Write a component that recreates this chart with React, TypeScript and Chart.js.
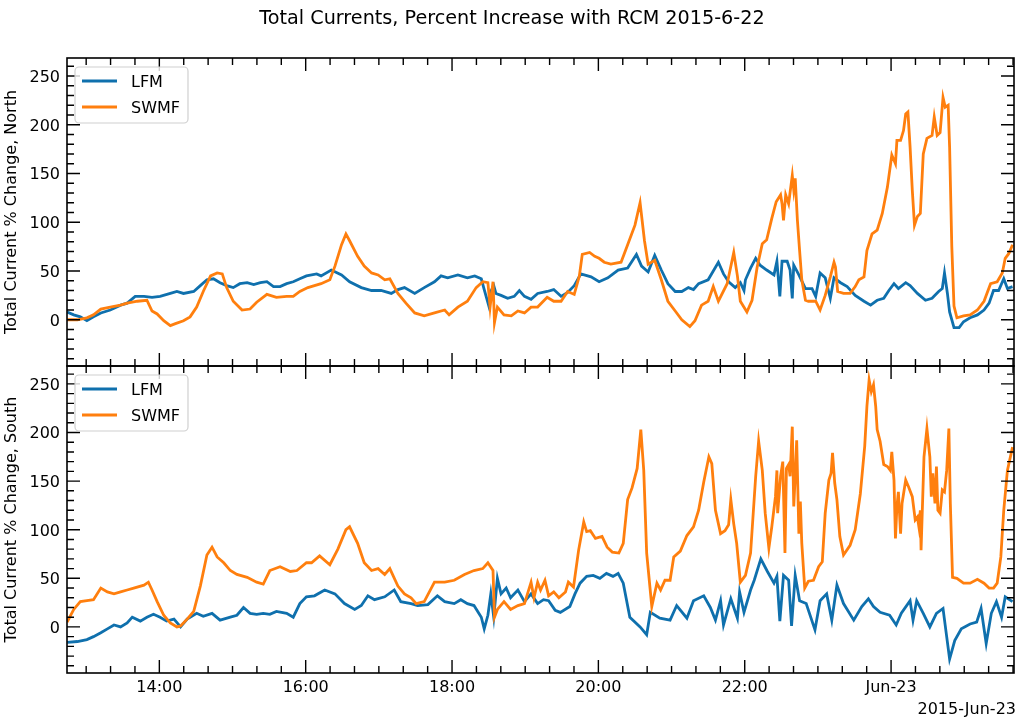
import { useEffect, useRef } from 'react';
import { Chart, registerables } from 'chart.js';

Chart.register(...registerables);

// time in hours since 2015-06-22 00:00 (24 = Jun-23 00:00)
const X_MIN = 12.738;
const X_MAX = 25.68;
const Y_MIN = -47.4;
const Y_MAX = 268.4;

const TITLE = 'Total Currents, Percent Increase with RCM 2015-6-22';
const OFFSET_LABEL = '2015-Jun-23';
const xMajorTicks = [14, 16, 18, 20, 22, 24];
const yMajorTicks = [0, 50, 100, 150, 200, 250];

const northLFM: [number, number][] = [
  [12.74, 8], [12.83, 5], [12.92, 3], [13.01, -1], [13.1, 3], [13.2, 7], [13.33, 10], [13.47, 15], [13.56, 17],
  [13.67, 24], [13.79, 24], [13.9, 23], [14.01, 24], [14.15, 27], [14.24, 29], [14.33, 27], [14.47, 29], [14.56, 35],
  [14.65, 41], [14.74, 42], [14.83, 38], [14.92, 35], [15.01, 33], [15.1, 37], [15.2, 38], [15.29, 36], [15.38, 38],
  [15.47, 39], [15.56, 34], [15.65, 34], [15.74, 37], [15.83, 39], [15.92, 42], [16.01, 45],
  [16.15, 47], [16.21, 45], [16.35, 51], [16.49, 46], [16.6, 39], [16.76, 33], [16.9, 30], [17.03, 30], [17.17, 27],
  [17.26, 31], [17.35, 33], [17.49, 27], [17.62, 33], [17.76, 39], [17.85, 45], [17.94, 43], [18.08, 46], [18.21, 43],
  [18.31, 45], [18.4, 42], [18.44, 31], [18.5, 15], [18.53, 29], [18.57, 35], [18.6, 27], [18.67, 25], [18.76, 22],
  [18.85, 24], [18.92, 30], [18.99, 24], [19.08, 21], [19.17, 27],
  [19.3, 29], [19.39, 31], [19.49, 24], [19.58, 28], [19.67, 35], [19.76, 47], [19.9, 44], [20.01, 39], [20.13, 43],
  [20.27, 51], [20.4, 53], [20.52, 67], [20.59, 55], [20.68, 49], [20.77, 66], [20.86, 51], [20.95, 37], [21.05, 29],
  [21.14, 29], [21.23, 33], [21.3, 31], [21.37, 37], [21.5, 41], [21.64, 59], [21.71, 47], [21.78, 39], [21.87, 33],
  [21.94, 38], [21.99, 30], [22.01, 41], [22.08, 53], [22.15, 63], [22.21, 56], [22.3, 51], [22.4, 46], [22.44, 60],
  [22.48, 24], [22.51, 60], [22.58, 60], [22.62, 51], [22.65, 22], [22.67, 56], [22.74, 46], [22.83, 32], [22.92, 32],
  [22.97, 24], [23.03, 48], [23.1, 43], [23.17, 22], [23.22, 43], [23.31, 38], [23.4, 34], [23.51, 25], [23.63, 19],
  [23.72, 15], [23.81, 20], [23.9, 22], [23.97, 30], [24.04, 37], [24.1, 32], [24.2, 38], [24.26, 35], [24.36, 27],
  [24.47, 20], [24.56, 22], [24.65, 29], [24.7, 32], [24.73, 48], [24.77, 27], [24.8, 8], [24.86, -8], [24.93, -8],
  [24.99, -2], [25.08, 2], [25.18, 5], [25.27, 10], [25.34, 17], [25.4, 30], [25.47, 30], [25.54, 42], [25.59, 32],
  [25.66, 34],
];

const northSWMF: [number, number][] = [
  [12.74, 0], [12.88, 0], [13.01, 2], [13.1, 5], [13.2, 11], [13.33, 13], [13.47, 15], [13.56, 17], [13.7, 19],
  [13.83, 20], [13.9, 9], [13.97, 6], [14.06, -1], [14.15, -6], [14.22, -4], [14.33, -1], [14.42, 3], [14.51, 13],
  [14.6, 29], [14.7, 45], [14.79, 48], [14.86, 47], [14.92, 33], [15.01, 19], [15.13, 10], [15.24, 11], [15.33, 18],
  [15.47, 26], [15.6, 23], [15.74, 24], [15.83, 24], [15.92, 29], [16.03, 33],
  [16.21, 37], [16.33, 41], [16.4, 55], [16.49, 77], [16.55, 88], [16.6, 81], [16.71, 65], [16.8, 55], [16.9, 48],
  [16.99, 46], [17.08, 41], [17.15, 42], [17.26, 27], [17.37, 17], [17.49, 7], [17.62, 4], [17.76, 7], [17.9, 10],
  [17.96, 5], [18.08, 13], [18.21, 19], [18.33, 33], [18.42, 39], [18.49, 38], [18.52, 13], [18.56, 39], [18.58, -3],
  [18.62, 13], [18.71, 5], [18.81, 4], [18.9, 9], [18.99, 7], [19.08, 13], [19.17, 13],
  [19.3, 23], [19.39, 19], [19.49, 19], [19.58, 29], [19.67, 26], [19.74, 45], [19.78, 67], [19.88, 69], [19.95, 65],
  [20.01, 63], [20.08, 59], [20.17, 57], [20.31, 59], [20.4, 77], [20.5, 97], [20.57, 120], [20.63, 81], [20.68, 57],
  [20.77, 61], [20.86, 41], [20.95, 19], [21.05, 9], [21.14, 0], [21.25, -7], [21.32, -1], [21.41, 15], [21.5, 19],
  [21.57, 34], [21.64, 19], [21.76, 37], [21.85, 69], [21.9, 45],
  [21.94, 19], [22.03, 8], [22.1, 20], [22.17, 54], [22.24, 78], [22.3, 82], [22.37, 104], [22.43, 121], [22.49, 128],
  [22.51, 119], [22.53, 102], [22.56, 128], [22.6, 119], [22.65, 148], [22.67, 133], [22.69, 145], [22.72, 102],
  [22.75, 71], [22.78, 41], [22.83, 20], [22.87, 19], [22.97, 19], [23.03, 10], [23.1, 25], [23.17, 44], [23.22, 59],
  [23.24, 54], [23.27, 29], [23.35, 27], [23.44, 27], [23.51, 34], [23.56, 41], [23.63, 44], [23.67, 71], [23.74, 88],
  [23.81, 92], [23.88, 109], [23.95, 136], [24.01, 169], [24.06, 160], [24.08, 184], [24.13, 184], [24.17, 194],
  [24.2, 211], [24.23, 213], [24.26, 177], [24.29, 133], [24.32, 97], [24.36, 106], [24.4, 109], [24.44, 170],
  [24.49, 186], [24.56, 189], [24.59, 208], [24.63, 189], [24.67, 192], [24.71, 228], [24.74, 218], [24.78, 220],
  [24.8, 177], [24.83, 75], [24.86, 14], [24.9, 2], [24.99, 4], [25.08, 5], [25.18, 10], [25.27, 19], [25.36, 37],
  [25.45, 39], [25.52, 48], [25.56, 63], [25.61, 68], [25.66, 77],
];

const southLFM: [number, number][] = [
  [12.74, -16], [12.88, -15], [13.01, -13], [13.1, -10], [13.2, -6], [13.29, -2], [13.38, 2], [13.47, 0], [13.56, 4],
  [13.63, 10], [13.74, 6], [13.83, 10], [13.92, 13], [14.01, 10], [14.1, 6], [14.2, 8], [14.29, 0], [14.38, 8],
  [14.51, 14], [14.6, 11], [14.72, 14], [14.83, 7], [14.97, 10], [15.06, 12], [15.15, 20], [15.24, 14], [15.33, 13],
  [15.42, 14], [15.51, 13], [15.6, 16], [15.74, 14], [15.83, 10], [15.92, 24], [16.01, 31],
  [16.12, 32], [16.26, 38], [16.4, 34], [16.53, 24], [16.67, 18], [16.76, 22], [16.85, 32], [16.94, 28], [17.08, 31],
  [17.21, 38], [17.3, 26], [17.44, 24], [17.53, 22], [17.67, 23], [17.8, 32], [17.9, 26], [18.03, 24], [18.12, 28],
  [18.21, 24], [18.3, 22], [18.4, 10], [18.44, -2], [18.49, 12], [18.53, 34], [18.57, 10], [18.62, 50], [18.67, 34],
  [18.74, 40], [18.8, 30], [18.9, 38], [18.99, 26], [19.08, 34], [19.17, 24],
  [19.25, 28], [19.32, 27], [19.41, 17], [19.48, 15], [19.61, 21], [19.68, 34], [19.75, 45], [19.84, 52], [19.93, 53],
  [20.02, 50], [20.11, 55], [20.2, 52], [20.27, 55], [20.34, 45], [20.43, 10], [20.57, 0], [20.66, -8], [20.71, 15],
  [20.84, 9], [20.98, 7], [21.07, 22], [21.21, 9], [21.3, 27], [21.44, 32], [21.53, 20], [21.6, 7], [21.67, 27],
  [21.71, 2], [21.81, 29], [21.9, 9], [21.93, 36], [21.99, 15], [22.08, 38], [22.13, 48], [22.22, 70], [22.31, 57],
  [22.4, 45], [22.44, 52], [22.48, 6], [22.53, 53], [22.6, 48], [22.64, 1], [22.69, 53],
  [22.75, 27], [22.84, 24], [22.96, -3], [23.03, 27], [23.12, 34], [23.19, 7], [23.26, 43], [23.35, 24], [23.49, 7],
  [23.6, 21], [23.69, 29], [23.76, 21], [23.85, 15], [23.98, 12], [24.07, 2], [24.14, 14], [24.26, 27], [24.3, 7],
  [24.35, 27], [24.44, 14], [24.53, 0], [24.62, 14], [24.71, 19], [24.76, -10], [24.8, -33], [24.87, -14],
  [24.96, -2], [25.08, 3], [25.17, 5], [25.23, 19], [25.3, -17], [25.37, 14], [25.44, 26], [25.51, 10], [25.56, 31],
  [25.66, 26],
];

const southSWMF: [number, number][] = [
  [12.74, 5], [12.83, 18], [12.92, 26], [13.01, 27], [13.1, 28], [13.2, 40], [13.29, 36], [13.38, 34], [13.47, 36],
  [13.56, 38], [13.65, 40], [13.79, 43], [13.85, 46], [13.9, 38], [13.97, 26], [14.06, 12], [14.15, 4], [14.24, 0],
  [14.29, 1], [14.38, 8], [14.47, 16], [14.56, 42], [14.65, 74], [14.72, 82], [14.79, 72], [14.88, 66], [14.97, 58],
  [15.06, 54], [15.2, 51], [15.33, 46], [15.42, 44], [15.51, 58], [15.65, 62], [15.79, 57], [15.88, 58], [16.01, 66],
  [16.08, 66], [16.19, 73], [16.33, 64], [16.44, 80], [16.55, 100], [16.6, 103], [16.71, 86], [16.8, 66], [16.9, 58],
  [16.99, 60], [17.08, 54], [17.15, 60], [17.26, 42], [17.35, 34], [17.44, 30], [17.51, 24], [17.62, 26], [17.76, 46],
  [17.9, 46], [18.03, 48], [18.17, 54], [18.3, 58], [18.42, 60], [18.49, 66], [18.56, 58], [18.58, 10], [18.62, 18],
  [18.71, 26], [18.8, 18], [18.9, 22], [18.99, 24], [19.08, 46], [19.12, 30], [19.17, 46],
  [19.21, 38], [19.27, 48], [19.32, 32], [19.39, 36], [19.46, 30], [19.55, 36], [19.59, 46], [19.66, 41], [19.73, 79],
  [19.8, 108], [19.84, 98], [19.89, 99], [19.96, 91], [20.05, 93], [20.12, 82], [20.19, 77], [20.28, 76], [20.34, 86],
  [20.4, 131], [20.46, 143], [20.53, 163], [20.58, 203], [20.62, 161], [20.66, 76], [20.73, 21], [20.8, 45],
  [20.85, 38], [20.91, 48], [20.98, 48], [21.03, 72], [21.12, 78], [21.21, 94], [21.3, 103], [21.37, 120], [21.44, 149],
  [21.51, 175], [21.55, 168], [21.6, 120], [21.67, 96], [21.73, 99], [21.78, 105], [21.81, 131], [21.85, 106],
  [21.89, 86], [21.94, 46], [22.01, 53], [22.08, 76], [22.15, 155], [22.19, 191],
  [22.24, 161], [22.28, 117], [22.33, 81], [22.37, 103], [22.42, 134], [22.44, 161], [22.45, 117], [22.49, 155],
  [22.52, 170], [22.55, 76], [22.57, 163], [22.6, 167], [22.62, 155], [22.65, 206], [22.67, 124], [22.69, 155],
  [22.71, 192], [22.74, 96], [22.76, 129], [22.78, 86], [22.82, 40], [22.87, 47], [22.94, 48], [23.01, 62],
  [23.06, 67], [23.1, 117], [23.15, 151], [23.18, 158], [23.2, 179], [23.23, 148], [23.26, 131], [23.3, 93],
  [23.35, 74], [23.44, 84], [23.51, 100], [23.58, 137], [23.64, 186], [23.67, 227], [23.7, 254], [23.73, 242],
  [23.76, 249], [23.79, 227], [23.81, 203], [23.85, 191], [23.9, 167], [23.95, 165], [23.99, 161], [24.01, 180],
  [24.04, 151], [24.06, 91], [24.08, 124], [24.1, 139], [24.13, 96], [24.15, 127], [24.2, 151], [24.24, 144],
  [24.29, 134], [24.33, 110], [24.36, 113], [24.38, 103], [24.4, 120], [24.41, 79], [24.45, 175], [24.49, 204],
  [24.53, 175], [24.55, 134], [24.57, 158], [24.6, 127], [24.62, 165], [24.64, 120], [24.67, 117], [24.7, 141],
  [24.73, 139], [24.76, 161], [24.79, 204], [24.81, 127], [24.84, 51], [24.9, 50], [24.99, 45], [25.08, 45],
  [25.18, 49], [25.27, 45], [25.34, 40], [25.4, 40], [25.45, 45], [25.5, 72], [25.54, 120], [25.59, 161], [25.66, 185],
];

const BLUE = '#0f70ad';
const ORANGE = '#ff7f0e';
const FONT = '"DejaVu Sans", sans-serif';
const LINE_W = 2.8;

const toPoints = (series: [number, number][]) => series.map(([x, y]) => ({ x, y }));

const hourLabel = (h: number) => (h % 24 === 0 ? 'Jun-23' : `${h}:00`);

function panelPlugin(yTitle: string, showTitle: boolean, showXLabels: boolean) {
  return {
    id: 'panelDecor',
    afterDatasetsDraw(chart: any) {
      const { ctx, chartArea: a, scales } = chart;
      const xs = scales.x;
      const ys = scales.y;
      ctx.save();
      ctx.strokeStyle = '#000';
      ctx.fillStyle = '#000';
      ctx.lineWidth = 1.4;

      // inward ticks on all four sides
      ctx.beginPath();
      for (let k = Math.ceil(X_MIN * 3); k <= Math.floor(X_MAX * 3); k++) {
        const px = xs.getPixelForValue(k / 3);
        const len = k % 6 === 0 ? 13 : 7;
        ctx.moveTo(px, a.bottom);
        ctx.lineTo(px, a.bottom - len);
        ctx.moveTo(px, a.top);
        ctx.lineTo(px, a.top + len);
      }
      for (let v = -40; v <= 260; v += 10) {
        const py = ys.getPixelForValue(v);
        const len = v % 50 === 0 ? 13 : 7;
        ctx.moveTo(a.left, py);
        ctx.lineTo(a.left + len, py);
        ctx.moveTo(a.right, py);
        ctx.lineTo(a.right - len, py);
      }
      ctx.stroke();
      ctx.lineWidth = 1.6;
      ctx.strokeRect(a.left, a.top, a.right - a.left, a.bottom - a.top);

      // y tick labels
      ctx.font = `16px ${FONT}`;
      ctx.textAlign = 'right';
      ctx.textBaseline = 'alphabetic';
      yMajorTicks.forEach((v) => {
        ctx.fillText(String(v), a.left - 7, ys.getPixelForValue(v) + 5.8);
      });

      // y axis title
      ctx.save();
      ctx.translate(15.5, (a.top + a.bottom) / 2);
      ctx.rotate(-Math.PI / 2);
      ctx.textAlign = 'center';
      ctx.fillText(yTitle, 0, 0);
      ctx.restore();

      if (showXLabels) {
        ctx.textAlign = 'center';
        xMajorTicks.forEach((h) => {
          ctx.fillText(hourLabel(h), xs.getPixelForValue(h), a.bottom + 19);
        });
        ctx.textAlign = 'right';
        ctx.fillText(OFFSET_LABEL, a.right + 2, a.bottom + 41);
      }

      if (showTitle) {
        ctx.font = `19.2px ${FONT}`;
        ctx.textAlign = 'center';
        ctx.fillText(TITLE, 512, 24);
      }

      // legend
      const lx = a.left + 8;
      const ly = a.top + 9;
      const lw = 113;
      const lh = 56;
      ctx.beginPath();
      ctx.roundRect(lx, ly, lw, lh, 4);
      ctx.fillStyle = 'rgba(255,255,255,0.8)';
      ctx.fill();
      ctx.strokeStyle = '#d0d0d0';
      ctx.lineWidth = 1.2;
      ctx.stroke();
      const items: [string, string][] = [['LFM', BLUE], ['SWMF', ORANGE]];
      items.forEach(([label, color], i) => {
        const y = ly + 14 + i * 26;
        ctx.strokeStyle = color;
        ctx.lineWidth = LINE_W;
        ctx.beginPath();
        ctx.moveTo(lx + 7, y);
        ctx.lineTo(lx + 42, y);
        ctx.stroke();
        ctx.fillStyle = '#000';
        ctx.font = `16px ${FONT}`;
        ctx.textAlign = 'left';
        ctx.fillText(label, lx + 56, y + 5.8);
      });
      ctx.restore();
    },
  };
}

interface PanelProps {
  lfm: [number, number][];
  swmf: [number, number][];
  yTitle: string;
  top: number;
  bottom: number;
  showTitle?: boolean;
  showXLabels?: boolean;
}

function PanelChart({ lfm, swmf, yTitle, top, bottom, showTitle = false, showXLabels = false }: PanelProps) {
  const chartRef = useRef<HTMLCanvasElement>(null);
  const chartInstance = useRef<Chart | null>(null);

  useEffect(() => {
    if (!chartRef.current) return;
    if (chartInstance.current) chartInstance.current.destroy();
    const ctx = chartRef.current.getContext('2d');
    if (!ctx) return;

    chartInstance.current = new Chart(ctx, {
      type: 'line',
      data: {
        datasets: [
          {
            label: 'SWMF',
            data: toPoints(swmf),
            borderColor: ORANGE,
            borderWidth: LINE_W,
            pointRadius: 0,
            tension: 0,
            fill: false,
            order: 0,
          },
          {
            label: 'LFM',
            data: toPoints(lfm),
            borderColor: BLUE,
            borderWidth: LINE_W,
            pointRadius: 0,
            tension: 0,
            fill: false,
            order: 1,
          },
        ],
      },
      options: {
        responsive: false,
        animation: false,
        events: [],
        layout: { padding: { left: 67, right: 10, top, bottom: 720 - bottom } },
        plugins: {
          legend: { display: false },
          title: { display: false },
          tooltip: { enabled: false },
        },
        scales: {
          x: { type: 'linear', min: X_MIN, max: X_MAX, display: false },
          y: { type: 'linear', min: Y_MIN, max: Y_MAX, display: false },
        },
      },
      plugins: [panelPlugin(yTitle, showTitle, showXLabels)],
    });

    return () => {
      if (chartInstance.current) {
        chartInstance.current.destroy();
        chartInstance.current = null;
      }
    };
  }, [lfm, swmf, yTitle, top, bottom, showTitle, showXLabels]);

  return (
    <canvas
      ref={chartRef}
      width={1024}
      height={720}
      style={{ position: 'absolute', left: 0, top: 0, width: 1024, height: 720 }}
    />
  );
}

export default function App() {
  return (
    <div style={{ position: 'absolute', left: 0, top: 0, width: 1024, height: 720, background: '#fff' }}>
      <PanelChart
        lfm={northLFM}
        swmf={northSWMF}
        yTitle="Total Current % Change, North"
        top={58}
        bottom={366}
        showTitle
      />
      <PanelChart
        lfm={southLFM}
        swmf={southSWMF}
        yTitle="Total Current % Change, South"
        top={366}
        bottom={673}
        showXLabels
      />
    </div>
  );
}
